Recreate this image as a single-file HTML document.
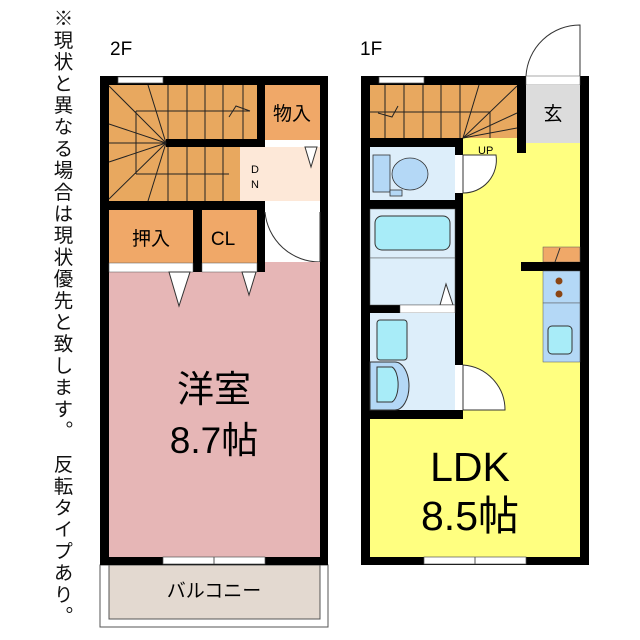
<!DOCTYPE html>
<html><head><meta charset="utf-8"><style>
body{margin:0;background:#fff;width:640px;height:640px;overflow:hidden;position:relative;font-family:"Liberation Sans","Noto Sans CJK JP",sans-serif}
.v{position:absolute;left:52px;top:8px;writing-mode:vertical-rl;font-size:19.5px;line-height:22px;letter-spacing:2.2px;color:#111;font-family:"Noto Sans CJK JP",sans-serif}
</style></head><body>
<div class="v">※現状と異なる場合は現状優先と致します。&#12288;反転タイプあり。</div>
<svg width="640" height="640" style="position:absolute;left:0;top:0" font-family="Liberation Sans, Noto Sans CJK JP, sans-serif">
<text x="110" y="55" font-size="19">2F</text>
<text x="360" y="55" font-size="19">1F</text>
<rect x="100" y="565" width="228" height="62" fill="#fff" stroke="#555" stroke-width="1"/>
<rect x="109" y="565" width="211" height="54" fill="#e3d9d0" stroke="#555" stroke-width="1"/>
<text x="214" y="597" font-size="19" text-anchor="middle" font-family="Noto Sans CJK JP, sans-serif">バルコニー</text>
<rect x="100" y="76" width="228" height="489" fill="#000"/>
<rect x="109" y="272" width="211" height="285" fill="#e6b6b6"/>
<rect x="109" y="85" width="148" height="54" fill="#e8a85f"/>
<rect x="109" y="139" width="131" height="62" fill="#e8a85f"/>
<rect x="166" y="139" width="99" height="8" fill="#000"/>
<g stroke="#222" stroke-width="1">
<line x1="168" y1="85" x2="168" y2="139"/><line x1="187" y1="85" x2="187" y2="139"/><line x1="205" y1="85" x2="205" y2="139"/><line x1="223" y1="85" x2="223" y2="139"/><line x1="243" y1="85" x2="243" y2="139"/>
<line x1="168" y1="147" x2="168" y2="201"/><line x1="187" y1="147" x2="187" y2="201"/><line x1="205" y1="147" x2="205" y2="201"/><line x1="223" y1="147" x2="223" y2="201"/>
<line x1="136" y1="111" x2="250" y2="111"/><line x1="136" y1="174" x2="229" y2="174"/><line x1="136" y1="111" x2="136" y2="174"/>
<line x1="166" y1="143" x2="109" y2="86"/><line x1="166" y1="143" x2="148" y2="85"/><line x1="166" y1="143" x2="109" y2="124"/><line x1="166" y1="143" x2="109" y2="143"/><line x1="166" y1="143" x2="109" y2="162"/><line x1="166" y1="143" x2="109" y2="199"/><line x1="166" y1="143" x2="148" y2="201"/>
<polyline points="229,117 236,106 250,111" fill="none"/>
</g>
<rect x="265" y="85" width="55" height="55" fill="#f0a868"/>
<text x="292" y="120" font-size="19" text-anchor="middle" font-family="Noto Sans CJK JP, sans-serif">物入</text>
<rect x="265" y="140" width="55" height="7" fill="#fff"/>
<rect x="240" y="147" width="80" height="54" fill="#fde8d8"/>
<polygon points="305,147 317,147 311,167" fill="#fff" stroke="#333" stroke-width="1"/>
<text x="251" y="173" font-size="11">D</text><text x="251" y="188" font-size="11">N</text>
<rect x="265" y="201" width="55" height="8" fill="#fff"/>
<rect x="265" y="209" width="55" height="63" fill="#fff"/>
<path d="M265,212 A55,55 0 0 0 320,262" fill="none" stroke="#333"/>
<line x1="320" y1="212" x2="320" y2="262" stroke="#333"/>
<rect x="109" y="210" width="84" height="53" fill="#f0a868"/>
<rect x="202" y="210" width="55" height="53" fill="#f0a868"/>
<text x="151" y="245" font-size="19" text-anchor="middle" font-family="Noto Sans CJK JP, sans-serif">押入</text>
<text x="223" y="245" font-size="19" text-anchor="middle">CL</text>
<rect x="109" y="263" width="84" height="9" fill="#fff" stroke="#555" stroke-width="0.5"/>
<rect x="202" y="263" width="55" height="9" fill="#fff" stroke="#555" stroke-width="0.5"/>
<rect x="265" y="262" width="55" height="10" fill="#e6b6b6"/>
<polygon points="169,272 190,272 179,306" fill="#fff" stroke="#333"/>
<polygon points="242,272 256,272 249,295" fill="#fff" stroke="#333"/>
<rect x="118" y="77" width="45" height="6" fill="#fff" stroke="#555" stroke-width="0.7"/>
<rect x="163" y="557" width="102" height="7" fill="#fff" stroke="#555" stroke-width="0.7"/>
<line x1="214" y1="557" x2="214" y2="564" stroke="#555"/>
<text x="214" y="402" font-size="37" text-anchor="middle" font-family="Noto Sans CJK JP, sans-serif">洋室</text>
<text x="214" y="453" font-size="37" text-anchor="middle" font-family="Liberation Sans, Noto Sans CJK JP, sans-serif">8.7帖</text>

<path d="M526,76 A54,54 0 0 1 580,25 L580,76" fill="#fff" stroke="#333"/>
<rect x="361" y="76" width="228" height="489" fill="#000"/>
<rect x="526" y="76" width="54" height="9" fill="#fff" stroke="#555" stroke-width="0.5"/>
<rect x="370" y="85" width="147" height="53" fill="#e8a85f"/>
<rect x="526" y="85" width="54" height="58" fill="#dcdcdc"/>
<text x="553" y="120" font-size="19" text-anchor="middle" font-family="Noto Sans CJK JP, sans-serif">玄</text>
<rect x="463" y="143" width="117" height="414" fill="#ffff80"/>
<rect x="463" y="138" width="54" height="5" fill="#ffff80"/>
<rect x="370" y="419" width="210" height="138" fill="#ffff80"/>
<rect x="517" y="138" width="9" height="15" fill="#000"/>
<g stroke="#222" stroke-width="1">
<line x1="385" y1="85" x2="385" y2="138"/><line x1="404" y1="85" x2="404" y2="138"/><line x1="423" y1="85" x2="423" y2="138"/><line x1="441" y1="85" x2="441" y2="138"/><line x1="460" y1="85" x2="460" y2="138"/>
<line x1="370" y1="112" x2="490" y2="112"/><line x1="490" y1="112" x2="490" y2="138"/>
<line x1="463" y1="138" x2="479" y2="85"/><line x1="463" y1="138" x2="517" y2="86"/><line x1="463" y1="138" x2="517" y2="113"/><line x1="463" y1="138" x2="517" y2="128"/>
<polyline points="378,113 392,117 398,106" fill="none"/>
</g>
<text x="478" y="154" font-size="11">UP</text>
<rect x="370" y="147" width="85" height="53" fill="#ddeefa"/>
<rect x="373" y="155" width="17" height="37" fill="#b4d8f6" stroke="#333" stroke-width="0.8"/>
<rect x="390" y="190" width="12" height="6" fill="#b4d8f6" stroke="#333" stroke-width="0.8"/>
<ellipse cx="410" cy="174" rx="18" ry="16" fill="#b4d8f6" stroke="#333" stroke-width="0.8"/>
<rect x="455" y="155" width="8" height="38" fill="#fff"/>
<path d="M463,155 L496,155 A33,33 0 0 1 463,193 Z" fill="#fff" stroke="#333"/>
<rect x="370" y="209" width="85" height="49" fill="#ddeefa" stroke="#555" stroke-width="0.5"/>
<rect x="375" y="216" width="75" height="34" rx="7" fill="#a8ecf8" stroke="#333"/>
<rect x="370" y="258" width="85" height="47" fill="#ddeefa" stroke="#555" stroke-width="0.5"/>
<polygon points="440,305 453,305 446,284" fill="#fff" stroke="#333"/>
<rect x="400" y="305" width="55" height="8" fill="#fff" stroke="#555" stroke-width="0.5"/>
<rect x="370" y="313" width="85" height="97" fill="#ddeefa"/>
<rect x="377" y="320" width="30" height="40" rx="3" fill="#a8ecf8" stroke="#333"/>
<path d="M370,362 L395,362 A14,24 0 0 1 395,410 L370,410 Z" fill="#b4d8f6" stroke="#333"/>
<path d="M377,367 L392,367 A8,18 0 0 1 392,402 L377,402 Z" fill="#a8ecf8" stroke="#333"/>
<rect x="455" y="365" width="8" height="45" fill="#fff"/>
<path d="M463,365 A45,45 0 0 1 505,410 L463,410 Z" fill="#fff" stroke="#333"/>
<rect x="543" y="247" width="37" height="15" fill="#f0a868" stroke="#555" stroke-width="0.5"/>
<line x1="555" y1="262" x2="560" y2="248" stroke="#333"/>
<rect x="521" y="262" width="59" height="9" fill="#000"/>
<rect x="543" y="271" width="37" height="32" fill="#b4d8f6" stroke="#555" stroke-width="0.5"/>
<circle cx="559" cy="281" r="3.5" fill="#8b4513"/><circle cx="559" cy="294" r="3.5" fill="#8b4513"/>
<rect x="543" y="303" width="37" height="59" fill="#b4d8f6" stroke="#555" stroke-width="0.5"/>
<rect x="548" y="326" width="24" height="28" rx="4" fill="#a8ecf8" stroke="#333"/>
<rect x="379" y="77" width="45" height="6" fill="#fff" stroke="#555" stroke-width="0.7"/>
<rect x="424" y="557" width="102" height="7" fill="#fff" stroke="#555" stroke-width="0.7"/>
<line x1="475" y1="557" x2="475" y2="564" stroke="#555"/>
<text x="470" y="481" font-size="41" text-anchor="middle">LDK</text>
<text x="470" y="530" font-size="41" text-anchor="middle" font-family="Liberation Sans, Noto Sans CJK JP, sans-serif">8.5帖</text>
</svg>
</body></html>
